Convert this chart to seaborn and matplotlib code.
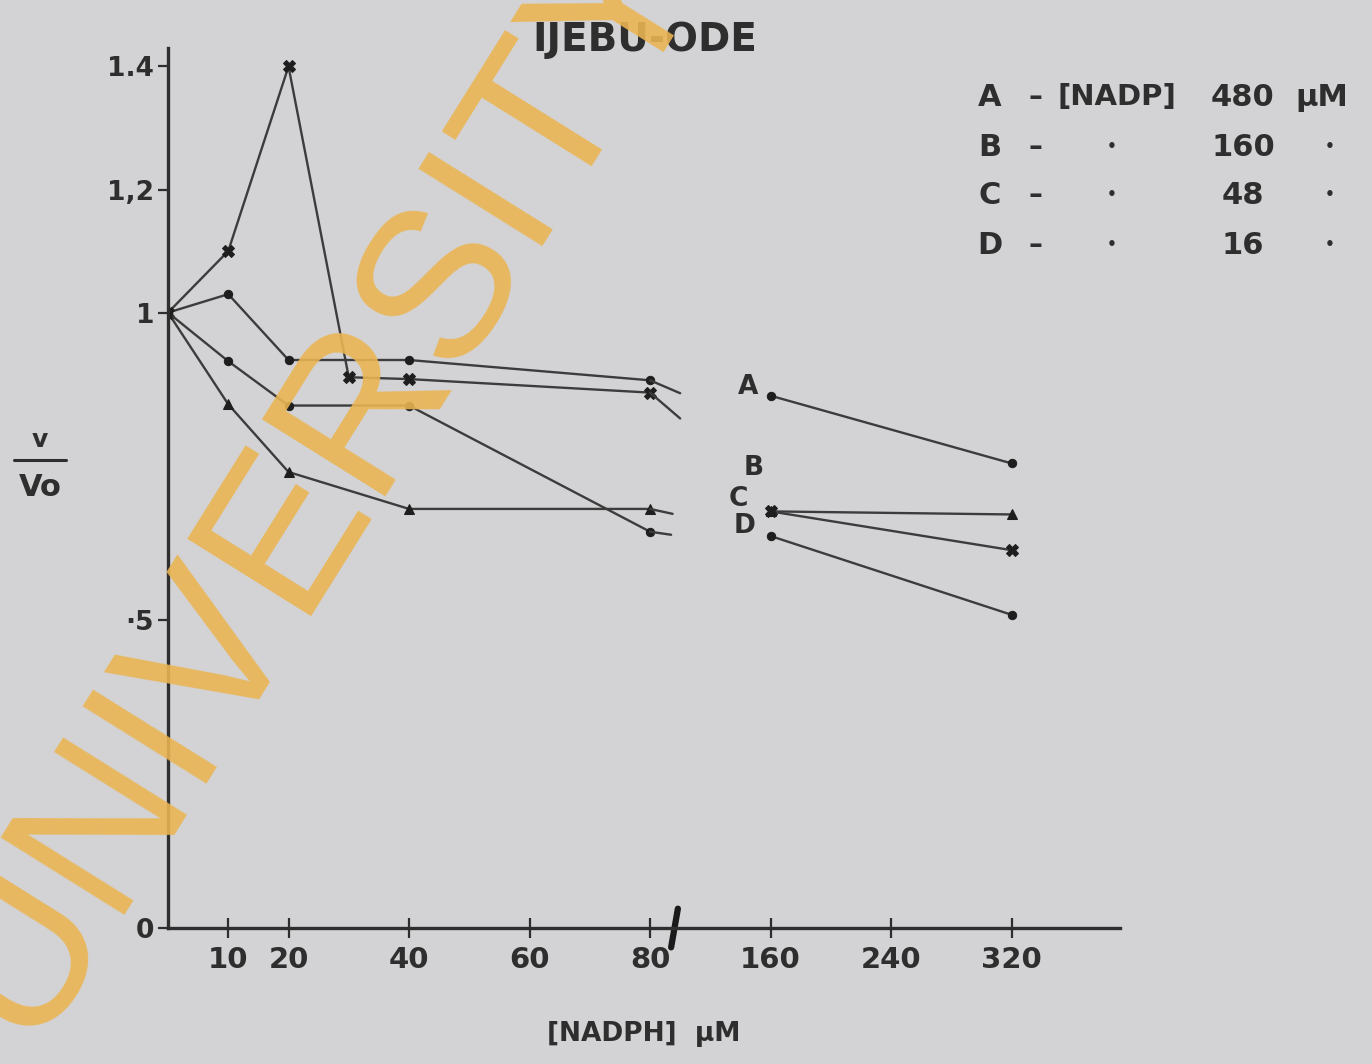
import numpy as np
import pandas as pd
import matplotlib
matplotlib.use("Agg")
import matplotlib.pyplot as plt
from matplotlib.lines import Line2D
import seaborn as sns

# NADPH concentration (uM) and relative activity v/Vo, for four NADP levels
x_low = [0, 10, 20, 40, 80]
x_low_c = [0, 10, 20, 30, 40, 80]
x_high = [160, 320]

a_low = [1.00, 1.03, 0.923, 0.923, 0.890]
a_high = [0.865, 0.755]
b_low = [1.00, 0.851, 0.741, 0.681, 0.681]
b_high = [0.677, 0.672]
c_low = [1.00, 1.10, 1.40, 0.895, 0.892, 0.870]
c_high = [0.677, 0.614]
d_low = [1.00, 0.921, 0.849, 0.849, 0.644]
d_high = [0.637, 0.509]

# short stubs where each low-range curve runs into the axis break
tail_x = {"A": 100, "B": 95, "C": 100, "D": 94}
tail_y = {"A": 0.869, "B": 0.673, "C": 0.828, "D": 0.639}

legend_letters = ["A", "B", "C", "D"]
legend_nadp = ["480", "160", "48", "16"]

x_ticks = [10, 20, 40, 60, 80, 160, 240, 320]
x_ticklabels = ["10", "20", "40", "60", "80", "160", "240", "320"]
y_ticks = [0, 0.5, 1.0, 1.2, 1.4]
y_ticklabels = ["0", "\u00b75", "1", "1,2", "1.4"]

series = {
    "A": (x_low, a_low, a_high, "o"),
    "B": (x_low, b_low, b_high, "^"),
    "C": (x_low_c, c_low, c_high, "X"),
    "D": (x_low, d_low, d_high, "o"),
}

BG = "#d3d3d5"
INK = "#2e2e2e"
LINE = "#3c3c3c"

sns.set_theme(style="ticks")
plt.rcParams["font.family"] = ["DejaVu Sans"]
plt.rcParams["font.weight"] = "bold"

W, H = 1372, 1064
fig = plt.figure(figsize=(W / 100, H / 100), dpi=100, facecolor=BG)
ax = fig.add_axes([168 / W, (H - 928) / H, (1120 - 168) / W, (928 - 48) / H])
ax.set_facecolor(BG)


def fwd(v):
    v = np.asarray(v, dtype=float)
    return np.where(v <= 80, v, 80 + (v - 80) * 0.25)


def inv(p):
    p = np.asarray(p, dtype=float)
    return np.where(p <= 80, p, 80 + (p - 80) * 4.0)


ax.set_xscale("function", functions=(fwd, inv))

for key, (xl, yl, yh, mk) in series.items():
    msize = 8 if mk == "X" else (7 if mk == "^" else 6)
    sns.lineplot(x=xl, y=yl, ax=ax, color=LINE, lw=1.7, marker=mk,
                 markersize=msize, markeredgecolor="#1e1e1e",
                 markerfacecolor="#1e1e1e", estimator=None, sort=False)
    sns.lineplot(x=[xl[-1], tail_x[key]], y=[yl[-1], tail_y[key]], ax=ax,
                 color=LINE, lw=1.7, estimator=None, sort=False)
    sns.lineplot(x=x_high, y=yh, ax=ax, color=LINE, lw=1.7, marker=mk,
                 markersize=msize, markeredgecolor="#1e1e1e",
                 markerfacecolor="#1e1e1e", estimator=None, sort=False)

# curve letters beside the first high-range point
label_offsets = {"A": (-16, 6), "B": (-12, 31), "C": (-23, 9), "D": (-19, 7)}
for key in legend_letters:
    yh = series[key][2]
    ax.annotate(key, xy=(160, yh[0]), xytext=label_offsets[key],
                textcoords="offset points", ha="center", va="center",
                fontsize=19, fontweight="bold", color=INK)

ax.set_xlim(0, 392)
ax.set_ylim(0, 1.43)
ax.set_xticks(x_ticks)
ax.set_xticklabels(x_ticklabels)
ax.set_yticks(y_ticks)
ax.set_yticklabels(y_ticklabels)
ax.tick_params(axis="x", direction="inout", length=14, width=1.6, color=INK,
               labelsize=21, labelcolor=INK, pad=6)
ax.tick_params(axis="y", direction="out", length=7, width=1.6, color=INK,
               labelsize=19, labelcolor=INK, pad=3)
for lab in ax.get_xticklabels() + ax.get_yticklabels():
    lab.set_fontweight("bold")
    lab.set_fontfamily("DejaVu Sans Condensed")

sns.despine(ax=ax)
for side in ("left", "bottom"):
    ax.spines[side].set_linewidth(2.4)
    ax.spines[side].set_color(INK)

# axis break slash
ax.plot([94, 98.5], [-0.022, 0.022], color="#1a1a1a", lw=4.5,
        transform=ax.get_xaxis_transform(), clip_on=False,
        solid_capstyle="round")

ax.set_xlabel("[NADPH]  \u00b5M", fontsize=19, fontweight="bold", color=INK,
              labelpad=34, fontfamily="DejaVu Sans Condensed")

# title
fig.text(645 / W, 1 - 40 / H, "IJEBU-ODE", ha="center", va="center",
         fontsize=28, fontweight="bold", color=INK)

# v / Vo fraction on the y side
fig.text(40 / W, 1 - 440 / H, "v", ha="center", va="center", fontsize=18,
         fontweight="bold", color=INK)
fig.text(40 / W, 1 - 488 / H, "Vo", ha="center", va="center", fontsize=22,
         fontweight="bold", color=INK, fontfamily="DejaVu Sans Condensed")
fig.add_artist(Line2D([14 / W, 66 / W], [1 - 460 / H, 1 - 460 / H],
                      color=INK, lw=2.2))

# concentration key
rows_y = [97, 147, 195, 245]
for i, (let, val) in enumerate(zip(legend_letters, legend_nadp)):
    yy = 1 - rows_y[i] / H
    kw = dict(va="center", fontweight="bold", color=INK,
              fontfamily="DejaVu Sans Condensed")
    fig.text(990 / W, yy, let, ha="center", fontsize=22, **kw)
    fig.text(1035 / W, yy, "\u2013", ha="center", fontsize=20, **kw)
    if i == 0:
        fig.text(1117 / W, yy, "[NADP]", ha="center", fontsize=21, **kw)
        fig.text(1322 / W, yy, "\u00b5M", ha="center", fontsize=22, **kw)
    else:
        fig.text(1112 / W, yy, "\u2022", ha="center", fontsize=11, **kw)
        fig.text(1330 / W, yy, "\u2022", ha="center", fontsize=11, **kw)
    fig.text(1243 / W, yy, val, ha="center", fontsize=22, **kw)

# repository watermark
fig.text(318 / W, 1 - 478 / H, "UNIVERSITY", ha="center", va="center",
         rotation=58, rotation_mode="anchor", fontsize=152,
         fontfamily="Liberation Sans", fontweight="normal",
         color="#eab553", alpha=0.9, zorder=10)

fig.savefig("out.png", dpi=100, facecolor=BG)
